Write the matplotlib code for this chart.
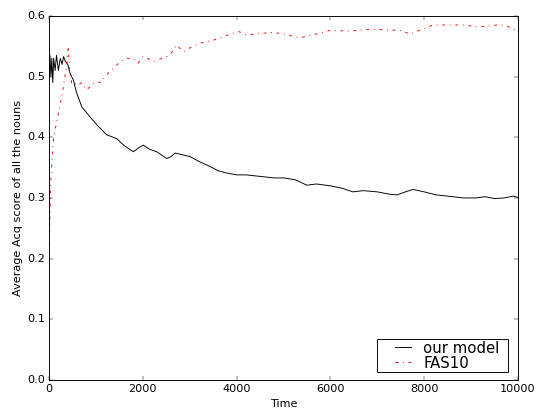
import matplotlib
matplotlib.use("Agg")
import matplotlib.pyplot as plt
from matplotlib.legend_handler import HandlerLine2D

# readings
model_t = [0, 20, 40, 60, 80, 100, 130, 160, 200, 240, 280, 310, 350, 400, 450,
           520, 590, 700, 870, 1050, 1230, 1440, 1590, 1800, 1900, 2010, 2150,
           2300, 2510, 2600, 2690, 2800, 3010, 3200, 3430, 3600, 3790, 4000,
           4200, 4560, 4800, 5000, 5250, 5500, 5700, 6000, 6250, 6480, 6700,
           7000, 7270, 7420, 7600, 7760, 8000, 8250, 8500, 8830, 9100, 9300,
           9500, 9700, 9900, 10000]
model_score = [0.49, 0.535, 0.50, 0.53, 0.49, 0.53, 0.51, 0.535, 0.51, 0.53, 0.52,
               0.533, 0.525, 0.52, 0.505, 0.494, 0.473, 0.450, 0.434, 0.418, 0.404,
               0.398, 0.387, 0.376, 0.382, 0.387, 0.38, 0.376, 0.365, 0.368, 0.374,
               0.372, 0.368, 0.36, 0.352, 0.345, 0.341, 0.338, 0.338, 0.335, 0.333,
               0.333, 0.33, 0.321, 0.323, 0.32, 0.316, 0.31, 0.312, 0.31, 0.306,
               0.305, 0.31, 0.314, 0.31, 0.305, 0.303, 0.300, 0.300, 0.302, 0.299,
               0.300, 0.303, 0.301]

fas_t = [0, 20, 40, 70, 100, 150, 230, 290, 340, 380, 410, 440, 480, 520, 600,
         700, 800, 900, 1016, 1100, 1230, 1400, 1514, 1650, 1798, 1900, 2011,
         2150, 2260, 2400, 2509, 2620, 2722, 2864, 3000, 3220, 3504, 3700, 3860,
         4050, 4200, 4400, 4780, 5000, 5350, 5600, 5990, 6400, 6840, 7200, 7500,
         7700, 7900, 8190, 8500, 8830, 9130, 9350, 9550, 9750, 9890, 10000]
fas_score = [0.2, 0.27, 0.33, 0.368, 0.4, 0.42, 0.45, 0.475, 0.5, 0.52, 0.55, 0.51,
             0.49, 0.492, 0.485, 0.49, 0.478, 0.485, 0.492, 0.49, 0.503, 0.515,
             0.525, 0.53, 0.53, 0.522, 0.533, 0.528, 0.525, 0.53, 0.533, 0.54,
             0.552, 0.541, 0.547, 0.555, 0.56, 0.565, 0.570, 0.574, 0.569, 0.57,
             0.573, 0.57, 0.564, 0.568, 0.576, 0.575, 0.578, 0.577, 0.576, 0.570,
             0.576, 0.585, 0.585, 0.585, 0.582, 0.583, 0.585, 0.584, 0.578, 0.576]

x_ticks = [0, 2000, 4000, 6000, 8000, 10000]
y_ticks = [0.0, 0.1, 0.2, 0.3, 0.4, 0.5, 0.6]

plt.style.use("classic")
fig = plt.figure(figsize=(8.0, 6.08), dpi=537 / 8.0)
fig.patch.set_facecolor("white")
ax = fig.add_axes([49 / 537, 1 - 380 / 408, 469 / 537, 364 / 408])

ax.plot(model_t, model_score, color="black", linewidth=1.0, label="our model")
ax.plot(fas_t, fas_score, color="red", linestyle="-.", linewidth=1.0, label="FAS10")

ax.set_xlim(0, 10000)
ax.set_ylim(0, 0.6)
ax.set_xticks(x_ticks)
ax.set_yticks(y_ticks)
ax.set_yticklabels([f"{v:.1f}" for v in y_ticks])
ax.set_xlabel("Time")
ax.set_ylabel("Average Acq score of all the nouns")

# old-style legend: wide box, short handles set in from the left edge
ax.legend(loc="lower left", bbox_to_anchor=(0.699, 0.022, 0.28, 0.09),
          mode="expand", fancybox=False, fontsize=16, borderpad=0.1,
          labelspacing=0.0, handlelength=2.5, handletextpad=0.5,
          borderaxespad=0.0, numpoints=2,
          handler_map={plt.Line2D: HandlerLine2D(xpad=0.85)})

fig.savefig("out.png", dpi=537 / 8.0, facecolor="white")
